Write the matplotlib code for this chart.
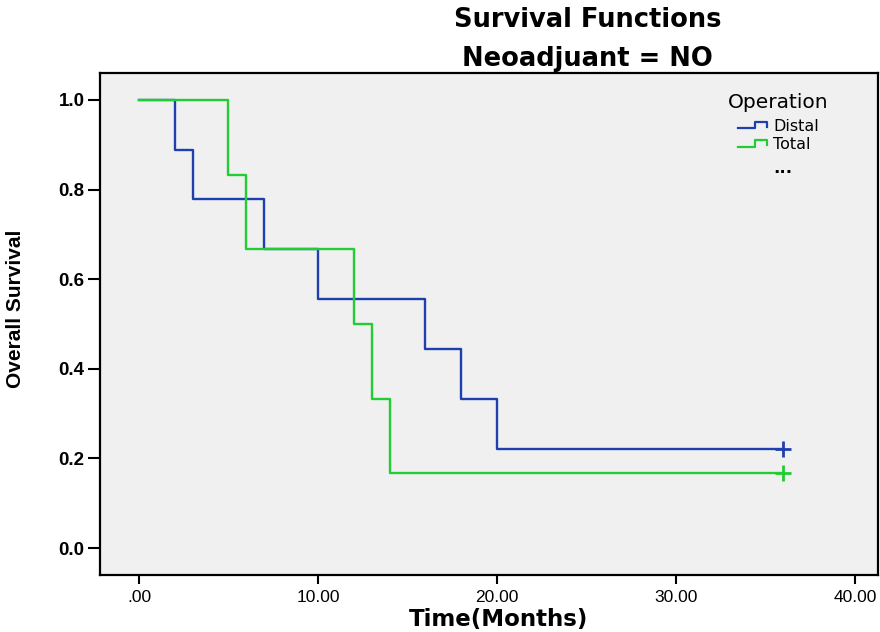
import numpy as np
import matplotlib
matplotlib.use("Agg")
import matplotlib.pyplot as plt
from matplotlib.lines import Line2D
from matplotlib.legend_handler import HandlerBase

# Kaplan-Meier step data
distal_t = [0, 2, 3, 7, 10, 16, 18, 20, 36]
distal_s = [1.0, 0.889, 0.778, 0.667, 0.556, 0.444, 0.333, 0.222, 0.222]
total_t = [0, 5, 6, 12, 13, 14, 36]
total_s = [1.0, 0.833, 0.667, 0.5, 0.333, 0.167, 0.167]
censor_t = [36, 36]
censor_s = [0.222, 0.167]
group_names = ["Distal", "Total"]
group_colors = ["#1f3fae", "#22cc33"]

xticks = [0, 10, 20, 30, 40]
xtick_labels = [".00", "10.00", "20.00", "30.00", "40.00"]
yticks = [0.0, 0.2, 0.4, 0.6, 0.8, 1.0]


class StepHandler(HandlerBase):
    # legend key drawn as a small step, like the SPSS output
    def create_artists(self, legend, orig_handle, xdescent, ydescent,
                       width, height, fontsize, trans):
        x0 = -xdescent
        y0 = -ydescent + height * 0.2
        y1 = -ydescent + height * 0.75
        xs = [x0, x0 + 0.55 * width, x0 + 0.55 * width, x0 + 0.92 * width, x0 + 0.92 * width]
        ys = [y0, y0, y1, y1, y0 + 0.15 * height]
        ln = Line2D(xs, ys, color=orig_handle.get_color(), lw=1.6, transform=trans)
        return [ln]


fig = plt.figure(figsize=(8.8, 6.32), dpi=100)
ax = fig.add_axes([0.1136, 0.0902, 0.884, 0.7943])
ax.set_facecolor("#f0f0f0")

h1, = ax.step(distal_t, distal_s, where="post", color=group_colors[0], lw=1.7)
h2, = ax.step(total_t, total_s, where="post", color=group_colors[1], lw=1.7)
ax.plot(censor_t[0], censor_s[0], marker="+", ms=11, mew=2, color=group_colors[0])
ax.plot(censor_t[1], censor_s[1], marker="+", ms=11, mew=2, color=group_colors[1])

ax.set_xlim(-2.18, 41.28)
ax.set_ylim(-0.06, 1.06)
ax.set_xticks(xticks)
ax.set_xticklabels(xtick_labels, fontsize=12.5, family="Liberation Sans")
ax.set_yticks(yticks)
ax.set_yticklabels([f"{v:.1f}" for v in yticks], fontsize=13.5, fontweight="bold",
                   family="Liberation Sans")
ax.tick_params(axis="x", length=6.5, width=1.5, pad=4)
ax.tick_params(axis="y", length=9, width=1.5, pad=2)
for sp in ax.spines.values():
    sp.set_linewidth(1.6)

ax.set_xlabel("Time(Months)", fontsize=16.5, fontweight="bold", family="DejaVu Sans", va="top")
ax.xaxis.set_label_coords(0.512, -0.066)
ax.set_ylabel("Overall Survival", fontsize=15, fontweight="bold", family="Liberation Sans")
ax.yaxis.set_label_coords(-0.097, 0.53)

fig.text(0.668, 0.968, "Survival Functions", ha="center", va="center",
         fontsize=18.5, fontweight="bold", family="DejaVu Sans")
fig.text(0.668, 0.907, "Neoadjuant = NO", ha="center", va="center",
         fontsize=18.5, fontweight="bold", family="DejaVu Sans")

leg = ax.legend([h1, h2], group_names, title="Operation", frameon=False,
                loc="upper center", bbox_to_anchor=(0.872, 0.983),
                handler_map={Line2D: StepHandler()},
                prop={"family": "DejaVu Sans", "size": 11.5},
                handlelength=2.0, handletextpad=0.2, labelspacing=0.2,
                borderpad=0.2)
leg.get_title().set_fontsize(14.5)
leg.get_title().set_family("DejaVu Sans")
leg._legend_box.sep = 5
ax.text(0.878, 0.81, "...", transform=ax.transAxes, ha="center", va="center",
        fontsize=12, fontweight="bold", family="DejaVu Sans")

fig.savefig("out.png", dpi=100)
